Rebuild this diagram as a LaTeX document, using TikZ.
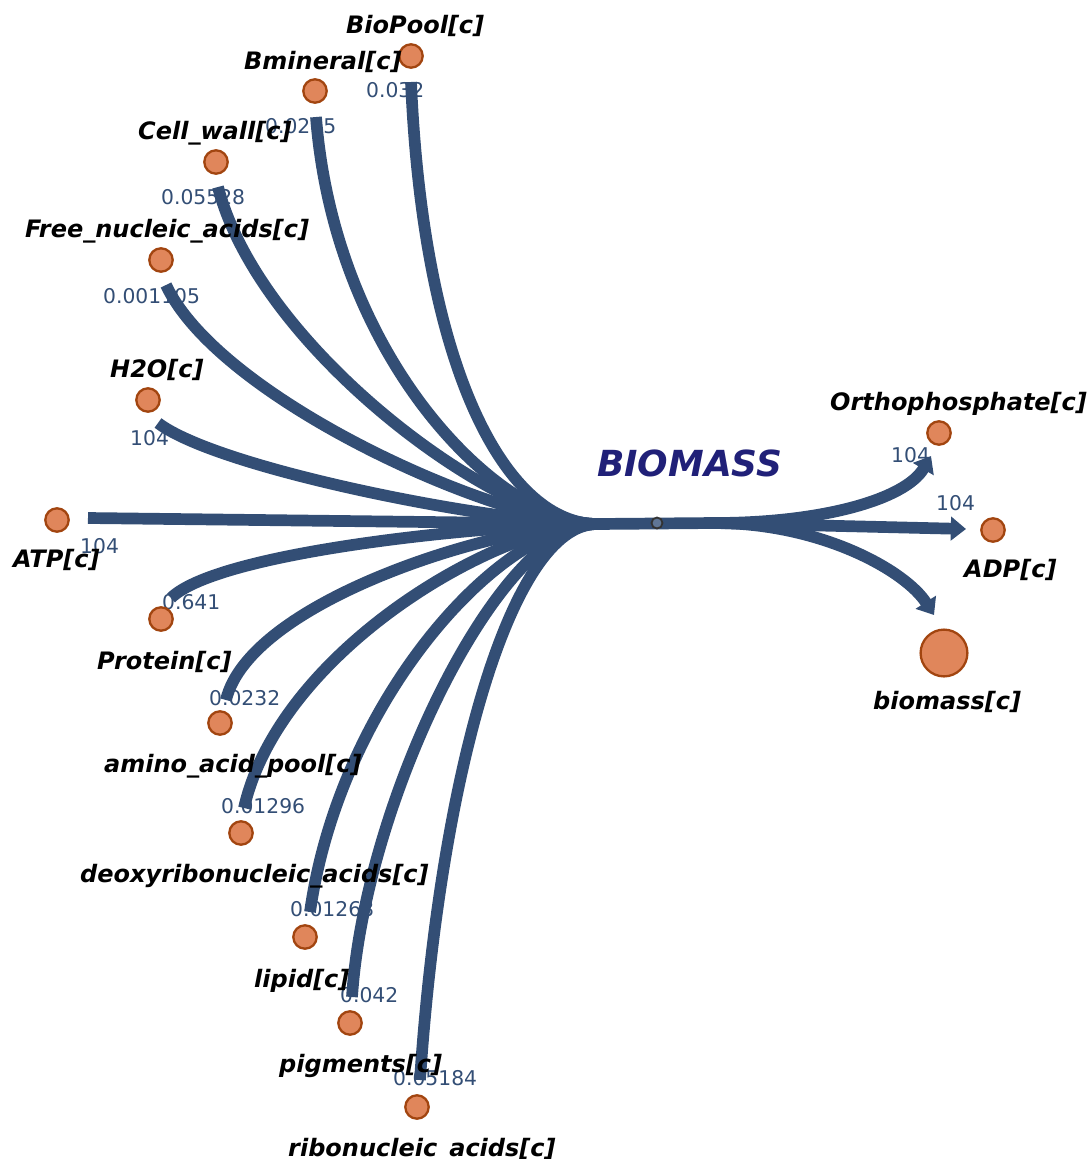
\documentclass[tikz,border=0pt]{standalone}
\usepackage{fontspec}
\setmainfont{DejaVu Sans}
\usetikzlibrary{positioning,calc,arrows.meta}
\definecolor{segcol}{RGB}{51,78,117}
\definecolor{metfill}{RGB}{224,134,91}
\definecolor{metstroke}{RGB}{162,69,16}
\definecolor{rxncol}{RGB}{32,32,120}
\definecolor{midfill}{RGB}{96,118,150}
\tikzset{
  met/.style={circle,draw=metstroke,fill=metfill,line width=2.3pt,
              minimum size=23.4pt,inner sep=0pt},
  bigmet/.style={met,minimum size=46.8pt},
  metlabel/.style={anchor=base west,inner sep=0pt,
                   font=\fontsize{24}{29}\selectfont\bfseries\itshape},
  stoich/.style={anchor=base west,inner sep=0pt,text=segcol,
                 font=\fontsize{20.3}{24}\selectfont},
  seg/.style={draw=segcol,line width=11.7pt},
  prod/.style={seg,-{Triangle[width=23.4pt,length=15.2pt]}},
}

\begin{document}
\begin{tikzpicture}[x=1pt,y=-1pt]
\useasboundingbox (0,0) rectangle (1090,1159);
% Reaction axis: left multimarker, midmarker, right multimarker
\coordinate (hubL) at (597,524);
\coordinate (hubR) at (715,523);
% Free ends of the reactant segments, next to each metabolite
\coordinate (biopool-s) at (411,82);
\coordinate (bmin-s) at (316,117);
\coordinate (wall-s) at (218,187);
\coordinate (fna-s) at (166,285);
\coordinate (h2o-s) at (158,423);
\coordinate (atp-s) at (88,518);
\coordinate (prot-s) at (171,598);
\coordinate (aap-s) at (226,700);
\coordinate (dna-s) at (244,808);
\coordinate (lipid-s) at (310,912);
\coordinate (pigm-s) at (352,997);
\coordinate (rna-s) at (420,1080);
% Arrow tips of the product segments
\coordinate (pi-e) at (931,456);
\coordinate (adp-e) at (966,529);
\coordinate (bio-e) at (934,615);
% Stoichiometries (under the segments)
\node[stoich] (biopool-n) at (366,97) {0.032};
\node[stoich] (bmin-n) at (265,133) {0.0215};
\node[stoich] (wall-n) at (161,204) {0.05528};
\node[stoich] (fna-n) at (103,303) {0.001105};
\node[stoich] (h2o-n) at (130,445) {104};
\node[stoich] (atp-n) at (80,553) {104};
\node[stoich] (prot-n) at (162,609) {0.641};
\node[stoich] (aap-n) at (209,705) {0.0232};
\node[stoich] (dna-n) at (221,813) {0.01296};
\node[stoich] (lipid-n) at (290,916) {0.01268};
\node[stoich] (pigm-n) at (340,1002) {0.042};
\node[stoich] (rna-n) at (393,1085) {0.05184};
\node[stoich] (pi-n) at (891,462) {104};
\node[stoich] (adp-n) at (936,510) {104};
% Reactant segments
\draw[seg] (biopool-s) .. controls (424,380) and (510,524) .. (hubL);
\draw[seg] (bmin-s) .. controls (335,360) and (500,524) .. (hubL);
\draw[seg] (wall-s) .. controls (260,350) and (500,524) .. (hubL);
\draw[seg] (fna-s) .. controls (220,400) and (500,524) .. (hubL);
\draw[seg] (h2o-s) .. controls (220,470) and (500,524) .. (hubL);
\draw[seg] (atp-s) -- (hubL);
\draw[seg] (prot-s) .. controls (220,550) and (500,524) .. (hubL);
\draw[seg] (aap-s) .. controls (250,600) and (500,524) .. (hubL);
\draw[seg] (dna-s) .. controls (280,650) and (500,524) .. (hubL);
\draw[seg] (lipid-s) .. controls (340,700) and (500,524) .. (hubL);
\draw[seg] (pigm-s) .. controls (365,800) and (500,524) .. (hubL);
\draw[seg] (rna-s) .. controls (440,780) and (510,524) .. (hubL);
% Main axis and products
\draw[seg] (hubL) -- (hubR);
\draw[prod] (hubR) .. controls (820,523) and (905,500) .. (pi-e);
\draw[prod] (hubR) -- (adp-e);
\draw[prod] (hubR) .. controls (820,523) and (905,570) .. (bio-e);
\node[circle,draw=black!80,fill=midfill,line width=1.8pt,minimum size=11pt,
      inner sep=0pt] (mid) at (657,523) {};
% Reaction name
\node[anchor=base west,inner sep=0pt,text=rxncol,
      font=\fontsize{35.9}{43}\selectfont\bfseries\itshape] (rxn) at (597,476) {BIOMASS};
% Metabolites and their names
\node[met] (biopool) at (411,56) {};
\node[metlabel] (biopool-l) at (346,33) {BioPool[c]};
\node[met] (bmin) at (315,91) {};
\node[metlabel] (bmin-l) at (244,69) {Bmineral[c]};
\node[met] (wall) at (216,162) {};
\node[metlabel] (wall-l) at (138,139) {Cell\_wall[c]};
\node[met] (fna) at (161,260) {};
\node[metlabel] (fna-l) at (25,237) {Free\_nucleic\_acids[c]};
\node[met] (h2o) at (148,400) {};
\node[metlabel] (h2o-l) at (110,377) {H2O[c]};
\node[met] (atp) at (57,520) {};
\node[metlabel] (atp-l) at (13,567) {ATP[c]};
\node[met] (prot) at (161,619) {};
\node[metlabel] (prot-l) at (97,669) {Protein[c]};
\node[met] (aap) at (220,723) {};
\node[metlabel] (aap-l) at (104,772) {amino\_acid\_pool[c]};
\node[met] (dna) at (241,833) {};
\node[metlabel] (dna-l) at (80,882) {deoxyribonucleic\_acids[c]};
\node[met] (lipid) at (305,937) {};
\node[metlabel] (lipid-l) at (254,987) {lipid[c]};
\node[met] (pigm) at (350,1023) {};
\node[metlabel] (pigm-l) at (279,1072) {pigments[c]};
\node[met] (rna) at (417,1107) {};
\node[metlabel] (rna-l) at (288,1156) {ribonucleic\_acids[c]};
\node[met] (pi) at (939,433) {};
\node[metlabel] (pi-l) at (830,410) {Orthophosphate[c]};
\node[met] (adp) at (993,530) {};
\node[metlabel] (adp-l) at (964,577) {ADP[c]};
\node[bigmet] (bio) at (944,653) {};
\node[metlabel] (bio-l) at (873,709) {biomass[c]};
\end{tikzpicture}
\end{document}
